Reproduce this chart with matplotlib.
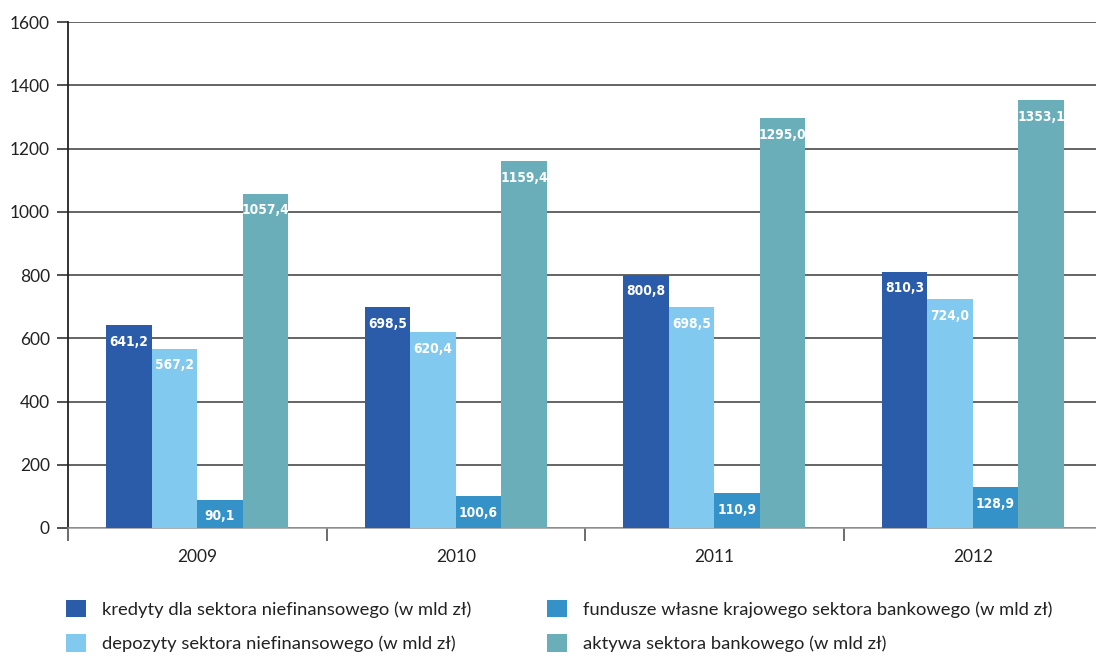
import matplotlib
matplotlib.use('Agg')
from matplotlib import pyplot as plt
import numpy as np

years = ['2009', '2010', '2011', '2012']
kredyty = [641.2, 698.5, 800.8, 810.3]
depozyty = [567.2, 620.4, 698.5, 724.0]
fundusze = [90.1, 100.6, 110.9, 128.9]
aktywa = [1057.4, 1159.4, 1295.0, 1353.1]
series_names = ['kredyty dla sektora niefinansowego (w mld zł)',
                'depozyty sektora niefinansowego (w mld zł)',
                'fundusze własne krajowego sektora bankowego (w mld zł)',
                'aktywa sektora bankowego (w mld zł)']
colors = ['#2a5caa', '#82c9ef', '#3592c9', '#6aaeba']

plt.rcParams['font.family'] = ['Lato', 'DejaVu Sans']

fig = plt.figure(figsize=(10.96, 6.57), dpi=100)
ax = fig.add_axes([68/1096, 129/657, 1034/1096, 506/657])

x = np.arange(len(years))
w = 0.176
handles = []
for i, vals in enumerate([kredyty, depozyty, fundusze, aktywa]):
    pos = x + (i - 1.5) * w
    bars = ax.bar(pos, vals, width=w, color=colors[i], label=series_names[i], zorder=3)
    handles.append(bars)
    for xp, v in zip(pos, vals):
        ax.annotate(f'{v:.1f}'.replace('.', ','), (xp, v), xytext=(0, -7),
                    textcoords='offset points', ha='center', va='top',
                    color='white', fontsize=9.8, fontweight='bold',
                    family='DejaVu Sans', fontstretch='condensed', zorder=4)

ax.set_ylim(0, 1600)
ax.set_xlim(-0.5, 3.5)
ax.set_yticks(range(0, 1601, 200))
ax.yaxis.grid(True, color='#3a3a3a', linewidth=1.1, zorder=0)
ax.tick_params(axis='y', labelsize=12.5, length=8, width=1.1, pad=5,
               color='#222222', labelcolor='#222222')

ax.set_xticks([-0.5, 0.5, 1.5, 2.5, 3.5])
ax.set_xticklabels([])
ax.set_xticks(x, minor=True)
ax.set_xticklabels(years, minor=True)
ax.tick_params(axis='x', which='major', length=9, width=1.1, color='#444444')
ax.tick_params(axis='x', which='minor', length=0, pad=15, labelsize=12.5, labelcolor='#222222')

for s in ['top', 'right']:
    ax.spines[s].set_visible(False)
ax.spines['left'].set_color('#222222')
ax.spines['left'].set_linewidth(1.3)
ax.spines['bottom'].set_color('#999999')
ax.spines['bottom'].set_linewidth(1.1)

fig.legend(handles=handles, loc='upper left', bbox_to_anchor=(53/1096, 1 - 587/657),
           ncol=2, frameon=False, fontsize=13.2, handlelength=1.1, handleheight=1.1,
           handletextpad=0.85, columnspacing=4.15, labelspacing=0.9, borderpad=0.2,
           labelcolor='#222222')

fig.savefig('out.png', dpi=100)
